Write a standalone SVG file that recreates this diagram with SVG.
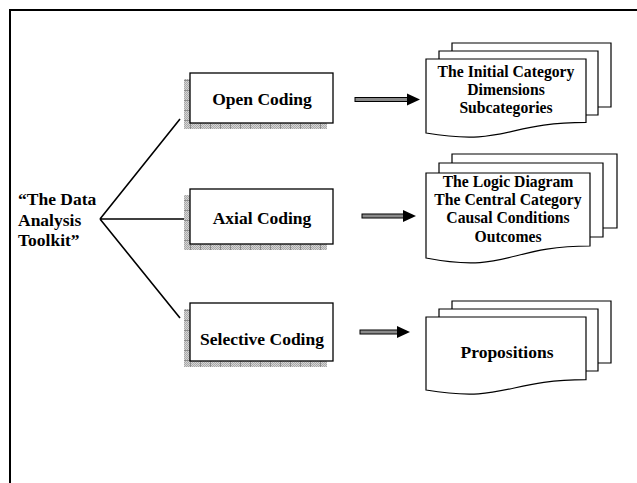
<svg xmlns="http://www.w3.org/2000/svg" width="637" height="483" viewBox="0 0 637 483">
<style>
  text { font-family: "Liberation Serif", "Times New Roman", serif; font-weight: bold; fill: #000; }
  .lbl { font-size: 17.5px; text-anchor: middle; }
  .doc { font-size: 15.7px; text-anchor: middle; }
  .box { fill: #fff; stroke: #000; stroke-width: 1.3; }
  .shadow { fill: url(#checker); }
  .grid { fill: url(#grid); }
  .sheet { fill: #fff; stroke: #000; stroke-width: 1.2; }
  .conn { stroke: #000; stroke-width: 1.6; fill: none; }
  .shaft { fill: #8a8a8a; stroke: #000; stroke-width: 1; }
  .head { fill: #000; }
</style>
<defs>
  <pattern id="checker" width="2" height="2" patternUnits="userSpaceOnUse">
    <rect width="2" height="2" fill="#d6d6d6"/>
    <rect width="1" height="1" fill="#a8a8a8"/>
    <rect x="1" y="1" width="1" height="1" fill="#a8a8a8"/>
  </pattern>
  <pattern id="grid" width="10" height="10" patternUnits="userSpaceOnUse">
    <path d="M0,0.5 H10 M0.5,0 V10" stroke="#8c8c8c" stroke-width="1" fill="none"/>
  </pattern>
</defs>

<rect x="10" y="10" width="640" height="490" fill="none" stroke="#000" stroke-width="2"/>

<g id="toolkit">
  <text x="18" y="205" font-size="17.5px">“The Data</text>
  <text x="18" y="226" font-size="17.5px">Analysis</text>
  <text x="18" y="246" font-size="17.5px">Toolkit”</text>
</g>

<g id="connectors">
  <path class="conn" d="M100,219 L180,119 M100,219 L184,219 M100,219 L180,318"/>
  <rect class="shaft" x="355" y="97.5" width="54" height="4"/>
  <polygon class="head" points="407,93.5 420,99.5 407,105.5"/>
  <rect class="shaft" x="362" y="214" width="42" height="4"/>
  <polygon class="head" points="403,210 416,216 403,222"/>
  <rect class="shaft" x="360" y="330" width="38" height="4"/>
  <polygon class="head" points="397,326 410,332 397,338"/>
</g>

<g id="open-coding">
  <rect class="shadow" x="184" y="79" width="143" height="50"/>
  <rect class="grid" x="184" y="79" width="143" height="50"/>
  <rect class="box" x="190" y="73" width="143" height="50"/>
  <text class="lbl" x="262" y="105">Open Coding</text>
</g>

<g id="axial-coding">
  <rect class="shadow" x="184" y="195" width="143" height="55"/>
  <rect class="grid" x="184" y="195" width="143" height="55"/>
  <rect class="box" x="190" y="189" width="143" height="55"/>
  <text class="lbl" x="262" y="224">Axial Coding</text>
</g>

<g id="selective-coding">
  <rect class="shadow" x="184" y="309" width="143" height="58"/>
  <rect class="grid" x="184" y="309" width="143" height="58"/>
  <rect class="box" x="190" y="303" width="143" height="58"/>
  <text class="lbl" x="262" y="345">Selective Coding</text>
</g>

<g id="doc-initial">
  <path class="sheet" d="M452,51 V43 H611 V107 H598"/>
  <path class="sheet" d="M439,59 V51 H598 V115 H586"/>
  <path class="sheet" d="M426,59 H586 V122.4 C506,122.4 506,146.5 426,133 Z"/>
  <text class="doc" x="506" y="77">The Initial Category</text>
  <text class="doc" x="506" y="95">Dimensions</text>
  <text class="doc" x="506" y="113">Subcategories</text>
</g>

<g id="doc-logic">
  <path class="sheet" d="M452,163 V154 H617 V228 H603"/>
  <path class="sheet" d="M439,173 V163 H603 V237 H590"/>
  <path class="sheet" d="M426,173 H590 V246 C508,246 508,273.8 426,258 Z"/>
  <text class="doc" x="508" y="187">The Logic Diagram</text>
  <text class="doc" x="508" y="205">The Central Category</text>
  <text class="doc" x="508" y="223">Causal Conditions</text>
  <text class="doc" x="508" y="242">Outcomes</text>
</g>

<g id="doc-propositions">
  <path class="sheet" d="M452,309 V301 H611 V363 H598"/>
  <path class="sheet" d="M439,317 V309 H598 V371 H586"/>
  <path class="sheet" d="M426,317 H586 V379.6 C506,379.6 506,403.4 426,390 Z"/>
  <text class="lbl" x="507" y="358">Propositions</text>
</g>
</svg>
